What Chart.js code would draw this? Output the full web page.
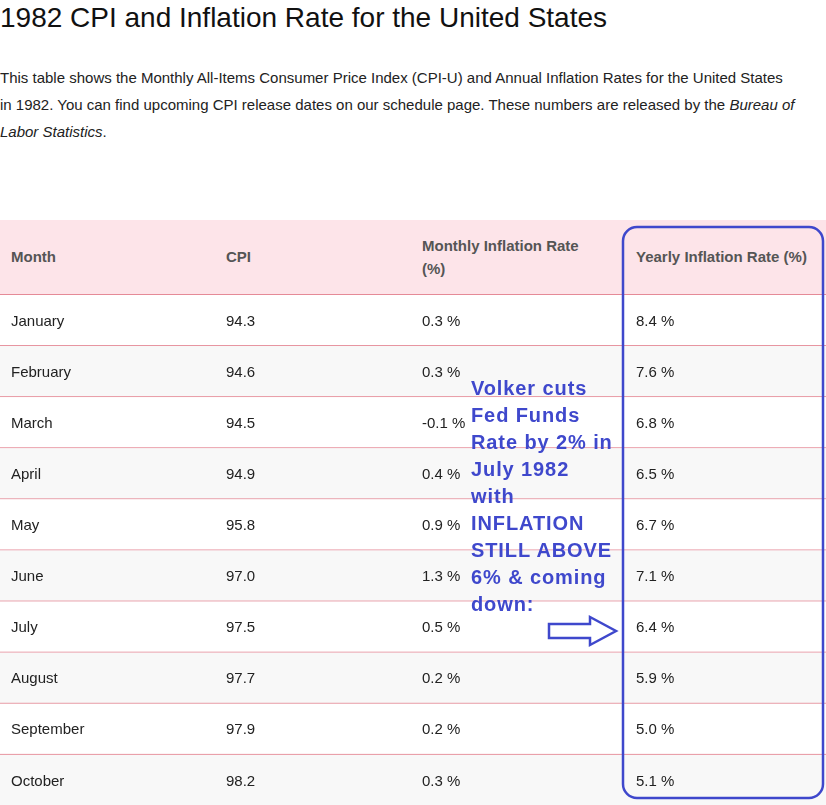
<!DOCTYPE html>
<html>
<head>
<meta charset="utf-8">
<script src="https://cdn.jsdelivr.net/npm/chart.js@4.4.0/dist/chart.umd.min.js"></script>
<style>
  body { margin: 0; width: 826px; height: 805px; overflow: hidden; background: #fff; font-family: "Liberation Sans", Arial, sans-serif; color: #222; position: relative; }
  h1 { position: absolute; left: 0; top: 2px; margin: 0; font-weight: normal; font-size: 28px; color: #111; }
  p.intro { position: absolute; left: 0; top: 64px; width: 798px; margin: 0; font-size: 15px; line-height: 27px; color: #222; }
  .head { position: absolute; left: 0; top: 220px; width: 826px; height: 74px; background: #fde4e9; border-bottom: 1px solid #e58a97; font-weight: bold; font-size: 15px; color: #555; }
  .head div { position: absolute; line-height: 23px; }
  #wrap { position: absolute; left: 0; top: 295px; width: 826px; height: 511px; }
  .note { position: absolute; left: 471px; top: 375px; font-weight: bold; font-size: 20px; letter-spacing: 0.9px; line-height: 27px; color: #3f48cc; font-family: "Liberation Sans", Arial, sans-serif; }
  svg { position: absolute; left: 0; top: 0; }
</style>
</head>
<body>
<h1>1982 CPI and Inflation Rate for the United States</h1>
<p class="intro">This table shows the Monthly All-Items Consumer Price Index (CPI-U) and Annual Inflation Rates for the United States in 1982. You can find upcoming CPI release dates on our schedule page. These numbers are released by the <i>Bureau of Labor Statistics</i>.</p>
<div class="head">
  <div style="left:11px;top:25px">Month</div>
  <div style="left:226px;top:25px">CPI</div>
  <div style="left:422px;top:14px;width:180px">Monthly Inflation Rate (%)</div>
  <div style="left:636px;top:25px">Yearly Inflation Rate (%)</div>
</div>
<div id="wrap"><canvas id="tbl"></canvas></div>
<div class="note">Volker cuts<br>Fed Funds<br>Rate by 2% in<br>July 1982<br>with<br>INFLATION<br>STILL ABOVE<br>6% &amp; coming<br>down:</div>
<svg width="826" height="805">
  <rect x="623" y="227" width="200" height="571" rx="14" ry="14" fill="none" stroke="#3f48cc" stroke-width="2.5"/>
  <path d="M549 624 L590 624 L590 617 L616 631 L590 645 L590 638 L549 638 Z" fill="none" stroke="#3f48cc" stroke-width="2.5"/>
</svg>
<script>
const columns = ['Month', 'CPI', 'Monthly', 'Yearly'];
const months = ['January', 'February', 'March', 'April', 'May', 'June', 'July', 'August', 'September', 'October'];
const cpi = [94.3, 94.6, 94.5, 94.9, 95.8, 97.0, 97.5, 97.7, 97.9, 98.2];
const monthlyRate = [0.3, 0.3, -0.1, 0.4, 0.9, 1.3, 0.5, 0.2, 0.2, 0.3];
const yearlyRate = [8.4, 7.6, 6.8, 6.5, 6.7, 7.1, 6.4, 5.9, 5.0, 5.1];
const columnStart = [11, 226, 422, 636];

const cells = months.map((m, i) => [m, cpi[i].toFixed(1), monthlyRate[i].toFixed(1) + ' %', yearlyRate[i].toFixed(1) + ' %']);

const tablePlugin = {
  id: 'tablePlugin',
  beforeDatasetsDraw(chart) {
    const { ctx } = chart;
    const y = chart.scales.y;
    const x = chart.scales.x;
    const half = (y.getPixelForValue(1) - y.getPixelForValue(0)) / 2;
    ctx.save();
    months.forEach((m, i) => {
      const cy = y.getPixelForValue(i);
      ctx.fillStyle = i % 2 ? '#f8f8f8' : '#ffffff';
      ctx.fillRect(x.left, cy - half, x.right - x.left, half * 2);
      ctx.fillStyle = '#e58a97';
      ctx.fillRect(x.left, cy + half - 1, x.right - x.left, 1);
      ctx.fillStyle = '#222';
      ctx.font = '15px "Liberation Sans", Arial, sans-serif';
      ctx.textBaseline = 'middle';
      cells[i].forEach((txt, c) => {
        ctx.fillText(txt, x.getPixelForValue(columnStart[c]), cy + 1);
      });
    });
    ctx.restore();
  }
};

new Chart(document.getElementById('tbl'), {
  type: 'scatter',
  data: { datasets: [{ data: months.map((m, i) => ({ x: 0, y: i })), pointRadius: 0 }] },
  options: {
    responsive: true,
    maintainAspectRatio: false,
    animation: false,
    layout: { padding: 0 },
    plugins: { legend: { display: false }, tooltip: { enabled: false } },
    scales: {
      x: { type: 'linear', min: 0, max: 826, display: false },
      y: { type: 'linear', min: -0.5, max: months.length - 0.5, reverse: true, display: false }
    }
  },
  plugins: [tablePlugin]
});
</script>
</body>
</html>
